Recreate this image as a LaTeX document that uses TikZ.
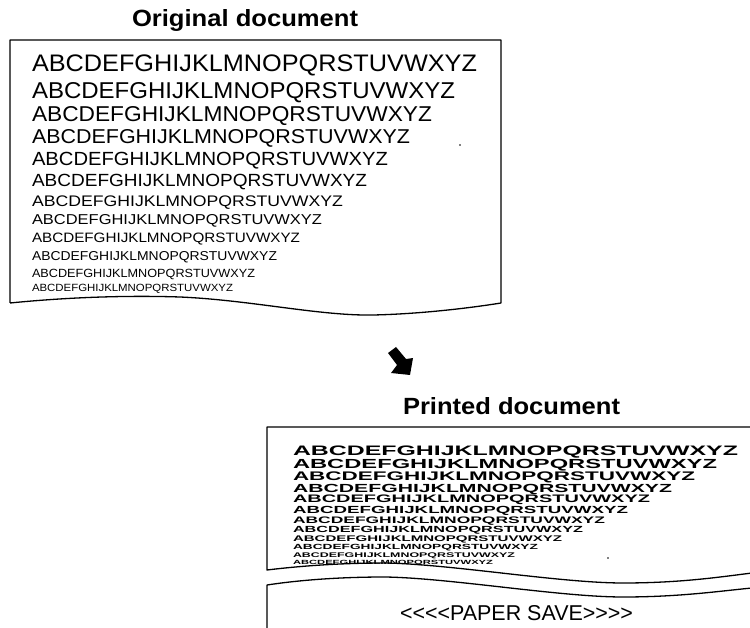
\documentclass[tikz,border=0pt]{standalone}
\usepackage{fontspec}
\setmainfont{Liberation Sans}
\usepackage{graphicx}
\newcommand\alphab{ABCDEFGHIJKLMNOPQRSTUVWXYZ}
\begin{document}
\begin{tikzpicture}[x=1pt,y=-1pt,
  edge/.style={line width=1.3pt,line join=round},
  txt/.style={anchor=base west,inner sep=0pt,outer sep=0pt}]
\useasboundingbox (0,0) rectangle (750,628);
% titles
\node[txt] (t1) at (132,27) {\resizebox{226pt}{17pt}{\bfseries Original document}};
\node[txt] (t2) at (403,414) {\resizebox{217pt}{17pt}{\bfseries Printed document}};
% original page
\draw[edge] (10,303) -- (10,40) -- (501,40) -- (501,303)
  .. controls (470,308) and (420,314) .. (373,315)
  .. controls (320,316) and (250,300) .. (180,297)
  .. controls (120,295) and (60,298) .. (10,303);
\foreach \b/\w/\h [count=\i] in {72/445/16.7,99/423/16,122/400/15,144/378/14,
  166/356/13.3,187/335/12.3,207/311/10.7,225/290/10,243/268/9.5,261/245/9,
  278/223/8.3,292/201/7.3}
  \node[txt] (o\i) at (32,\b) {\resizebox{\w pt}{\h pt}{\alphab}};
\fill (460,145) circle (0.9);
% arrow
\fill (388,353) -- (396,347) -- (406,359) -- (413,358) -- (410,375) -- (391,373) -- (397,365) -- cycle;
% printed page, first part
\draw[edge] (752,427) -- (267,427) -- (267,570)
  .. controls (300,566) and (340,563) .. (385,563)
  .. controls (450,564) and (560,583) .. (623,583)
  .. controls (680,583) and (720,577) .. (752,573);
\foreach \b/\w/\h [count=\i] in {455/445/9.6,468/424/9.2,480/402/8.7,492/379/8.2,
  502/357/7.6,513/335/7.2,523/312/6.6,532/290/6.2,541/269/5.7,549/245/5.2,
  557/222/4.7,564/200/4.2}
  \node[txt] (p\i) at (293,\b) {\resizebox{\w pt}{\h pt}{\bfseries\alphab}};
\fill (608,558) circle (0.9);
% printed page, second part
\draw[edge] (267,630) -- (267,585)
  .. controls (300,580) and (340,577) .. (385,577)
  .. controls (450,578) and (560,597) .. (623,597)
  .. controls (680,597) and (720,591) .. (752,588);
\node[txt] (ps) at (400,620) {\resizebox{233pt}{15pt}{<{}<{}<{}<PAPER SAVE>{}>{}>{}>}};
\end{tikzpicture}
\end{document}
